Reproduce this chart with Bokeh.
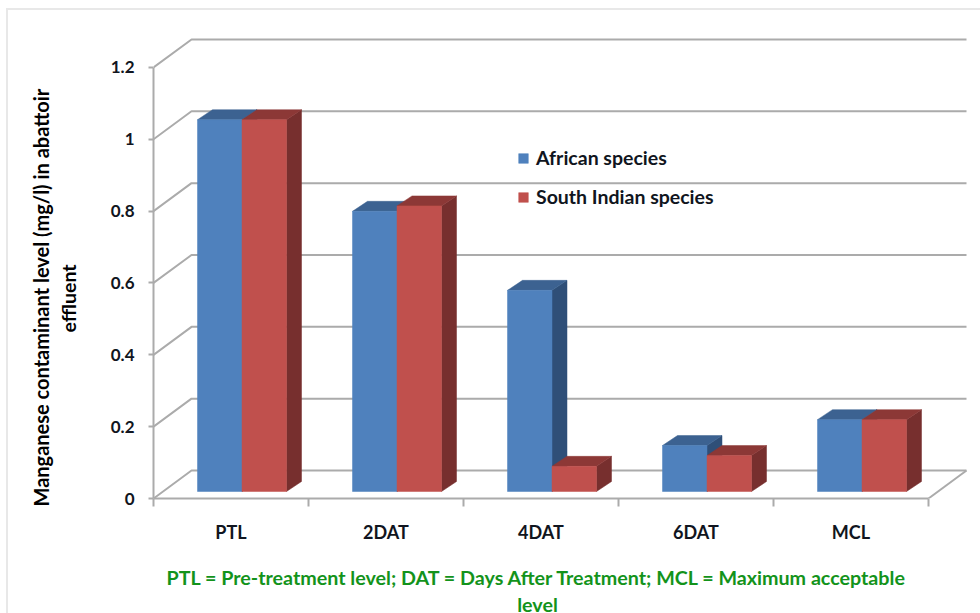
from bokeh.plotting import figure
from bokeh.embed import file_html
from bokeh.resources import INLINE
from bokeh.models import LinearAxis, FixedTicker, Title, Legend, LegendItem

categories = ["PTL", "2DAT", "4DAT", "6DAT", "MCL"]
african = [1.035, 0.78, 0.56, 0.128, 0.20]
south_indian = [1.035, 0.795, 0.07, 0.10, 0.20]
y_ticks = [0, 0.2, 0.4, 0.6, 0.8, 1, 1.2]
series_names = ["African species", "South Indian species"]
y_title = ["Manganese contaminant  level (mg/l) in abattoir", "effluent"]
caption = ["PTL = Pre-treatment level; DAT = Days After Treatment; MCL = Maximum acceptable", "level"]

FONT = "Lato"
GRID = "#ABABAB"
INK = "#101520"

X_UNIT, Y_UNIT = 155.0, 359.2
X0_PX, Y0_PX = 153.0, 498.0
def dx(px): return px / X_UNIT
def dy(px): return px / Y_UNIT
def sx(px): return 0.5 + (px - X0_PX) / X_UNIT
def sy(px): return (Y0_PX - px) / Y_UNIT

n = len(categories)
centers = [i + 1 for i in range(n)]
edges = [i + 0.5 for i in range(n + 1)]

p = figure(width=980, height=613, output_backend="svg", toolbar_location=None,
           x_range=(0.5, sx(980)), y_range=(0, sy(0)),
           frame_width=827, frame_height=498,
           min_border_left=153, min_border_right=0, min_border_top=0, min_border_bottom=0,
           x_axis_type=None, y_axis_type=None, outline_line_color=None,
           border_fill_color=None, background_fill_color=None)
p.grid.visible = False
p.styles = {"background":
            "linear-gradient(#E8E8E8,#E8E8E8) 6px 8px / 2px 100% no-repeat,"
            "linear-gradient(#E8E8E8,#E8E8E8) 6px 8px / 100% 2px no-repeat, #FFFFFF"}

# walls and floor
WX, WY = dx(38), dy(28)
xs_wall, ys_wall = [], []
for t in y_ticks:
    xs_wall.append([edges[0], edges[0] + WX, edges[-1] + WX])
    ys_wall.append([t, t + WY, t + WY])
xs_wall.append([edges[-1], edges[-1] + WX])
ys_wall.append([0, WY])
p.multi_line(xs_wall, ys_wall, line_color=GRID, line_width=2)

# bars
BASE = dy(7)
BAR_LEFT = dx(44)
BAR_W = dx(44.5)
DX, DY = dx(15), dy(10)

def draw(values, offset, front, top, side):
    lefts = [e + BAR_LEFT + offset * BAR_W for e in edges[:-1]]
    rights = [l + BAR_W for l in lefts]
    tops = [BASE + v for v in values]
    p.patches([[r, r + DX, r + DX, r] for r in rights],
              [[BASE, BASE + DY, t + DY, t] for t in tops],
              fill_color=side, line_color=side, line_width=0.5)
    p.patches([[l, l + DX, r + DX, r] for l, r in zip(lefts, rights)],
              [[t, t + DY, t + DY, t] for t in tops],
              fill_color=top, line_color=top, line_width=0.5)
    return p.quad(left=lefts, right=rights, bottom=BASE, top=tops,
                  fill_color=front, line_color=front, line_width=0.5)

r_a = draw(african, 0, "#4F81BD", "#3C6291", "#2F4F78")
r_s = draw(south_indian, 1, "#C0504D", "#8C3836", "#772F2E")

# axes
yaxis = LinearAxis(ticker=FixedTicker(ticks=y_ticks), bounds=(0, 1.2),
                   axis_line_color=GRID, axis_line_width=2,
                   major_tick_line_color=GRID, major_tick_line_width=2,
                   major_tick_in=0, major_tick_out=5, minor_tick_line_color=None,
                   major_label_standoff=14, major_label_text_font=FONT,
                   major_label_text_font_style="bold", major_label_text_font_size="17px",
                   major_label_text_color=INK)
p.add_layout(yaxis, "left")

xline = LinearAxis(ticker=FixedTicker(ticks=edges), bounds=(edges[0], edges[-1]),
                   axis_line_color=GRID, axis_line_width=2,
                   major_tick_line_color=GRID, major_tick_line_width=2,
                   major_tick_in=0, major_tick_out=8, minor_tick_line_color=None,
                   major_label_overrides={e: "" for e in edges},
                   major_label_text_font_size="1px", major_label_standoff=0)
p.add_layout(xline, "below")

xlabels = LinearAxis(ticker=FixedTicker(ticks=centers),
                     axis_line_color=None, major_tick_line_color=None, minor_tick_line_color=None,
                     major_label_overrides={c: name for c, name in zip(centers, categories)},
                     major_label_standoff=8, major_label_text_font=FONT,
                     major_label_text_font_style="bold", major_label_text_font_size="18px",
                     major_label_text_color=INK)
p.add_layout(xlabels, "below")

# axis title (left panel, outwards): a blank spacer, then the two lines
p.add_layout(Title(text=" ", standoff=15, text_font_size="10px"), "left")
p.add_layout(Title(text=y_title[1], align="left", offset=166, standoff=0, text_font=FONT,
                   text_font_style="bold", text_font_size="19.5px", text_color="#000000"), "left")
p.add_layout(Title(text=y_title[0], align="left", offset=-8, standoff=3, text_font=FONT,
                   text_font_style="bold", text_font_size="20px", text_color="#000000"), "left")

# caption: one two-line centred label below the category names
caption_axis = LinearAxis(ticker=FixedTicker(ticks=[sx(537)]),
                          axis_line_color=None, major_tick_line_color=None, minor_tick_line_color=None,
                          major_label_overrides={sx(537): "\n".join(caption)},
                          major_label_standoff=14, major_label_text_font=FONT,
                          major_label_text_font_style="bold", major_label_text_font_size="19.7px",
                          major_label_text_line_height=1.2,
                          major_label_text_color="#13931B")
p.add_layout(caption_axis, "below")

legend = Legend(items=[LegendItem(label=series_names[0], renderers=[r_a]),
                       LegendItem(label=series_names[1], renderers=[r_s])],
                location=(364, 290), orientation="vertical",
                glyph_width=12, glyph_height=12, label_standoff=7, spacing=16,
                padding=0, margin=0, border_line_color=None, background_fill_alpha=0,
                label_text_font=FONT, label_text_font_style="bold",
                label_text_font_size="19.5px", label_text_color=INK)
p.add_layout(legend, "center")

open("out.html", "w").write(file_html(p, INLINE))
